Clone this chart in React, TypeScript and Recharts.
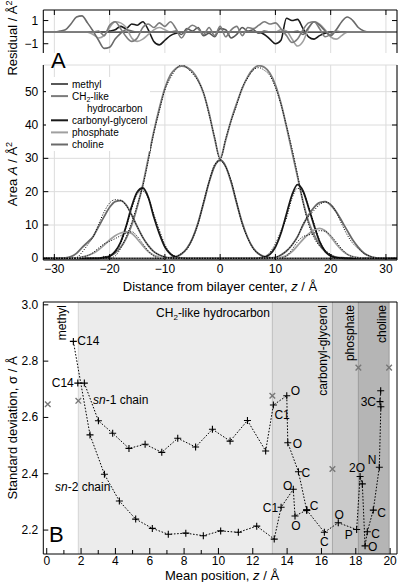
import React from "react";
import { CartesianGrid, Line, LineChart, ReferenceArea, ReferenceLine, XAxis, YAxis } from "recharts";

const FONT = "'Liberation Sans', Arial, Helvetica, sans-serif";
const MINUS = "\u2212";

// ---- panel A / residual: distance from bilayer centre (Å) ----
const zValues = [
  -32, -31, -30, -29, -28, -27, -26, -25, -24, -23,
  -22, -21, -20, -19, -18, -17, -16, -15, -14, -13,
  -12, -11, -10, -9, -8, -7, -6, -5, -4, -3,
  -2, -1, 0, 1, 2, 3, 4, 5, 6, 7,
  8, 9, 10, 11, 12, 13, 14, 15, 16, 17,
  18, 19, 20, 21, 22, 23, 24, 25, 26, 27,
  28, 29, 30, 31, 32,
];

const methylArea = [
  0, 0, 0, 0, 0, 0, 0, 0, 0, 0,
  0, 0, 0, 0, 0, 0, 0, 0, 0, 0,
  0, 0, 0, 0.2, 0.5, 1.3, 3.0, 6.0, 10.6, 16.6,
  22.9, 27.7, 29.5, 27.6, 22.8, 16.5, 10.6, 6.1, 3.0, 1.3,
  0.5, 0.2, 0, 0, 0, 0, 0, 0, 0, 0,
  0, 0, 0, 0, 0, 0, 0, 0, 0, 0,
  0, 0, 0, 0, 0,
];
const ch2Area = [
  0, 0, 0, 0, 0, 0, 0, 0, 0, 0.05,
  0.1, 0.3, 0.7, 1.6, 3.3, 6, 10, 15.5, 22, 30,
  38, 45, 51, 55, 57, 57.7, 57.3, 56, 53.5, 49.5,
  43.5, 36, 30, 35.5, 41.5, 46.5, 51, 54.5, 56.8, 57.8,
  57.3, 55.5, 52, 46.5, 39.5, 32, 24.5, 17, 11, 7,
  4, 2, 1, 0.4, 0.2, 0.05, 0, 0, 0, 0,
  0, 0, 0, 0, 0,
];
const carbonylArea = [
  0, 0, 0, 0, 0, 0, 0, 0, 0, 0,
  0, 0.2, 0.65, 2.1, 4.9, 9.7, 15.6, 19.9, 21.1, 18.3,
  12.4, 7.4, 3.4, 1.3, 0.4, 0.1, 0, 0, 0, 0,
  0, 0, 0, 0, 0, 0, 0, 0, 0, 0.08,
  0.35, 1.2, 3.4, 7.5, 13.3, 19, 22.1, 20.2, 15.2, 9.8,
  5.0, 2.1, 0.7, 0.2, 0.05, 0, 0, 0, 0, 0,
  0, 0, 0, 0, 0,
];
const phosphateArea = [
  0, 0, 0, 0, 0, 0, 0.1, 0.4, 0.8, 1.5,
  2.6, 4, 5.5, 6.8, 7.6, 7.9, 7.5, 5.8, 3.8, 2,
  0.9, 0.3, 0.1, 0, 0, 0, 0, 0, 0, 0,
  0, 0, 0, 0, 0, 0, 0, 0, 0, 0,
  0, 0, 0, 0.3, 0.8, 2, 3.8, 5.7, 7.3, 8.5,
  9, 8.3, 6.5, 4.3, 2.5, 1.2, 0.5, 0.2, 0, 0,
  0, 0, 0, 0, 0,
];
const cholineArea = [
  0, 0, 0, 0, 0.1, 0.5, 1.5, 3.2, 4.8, 6.5,
  9.5, 12.5, 15.3, 17, 17.3, 16, 13, 9.5, 6.3, 3.8,
  2, 1, 0.4, 0.1, 0, 0, 0, 0, 0, 0,
  0, 0, 0, 0, 0, 0, 0, 0, 0, 0,
  0, 0.1, 0.3, 1, 2.2, 4, 6.5, 10, 13, 15.3,
  16.7, 17, 16, 14, 11.2, 8.3, 5.5, 3.3, 1.6, 0.7,
  0.2, 0, 0, 0, 0,
];

// residual = simulation - fit
const methylRes = [
  0, 0, 0, 0, 0, 0, 0, 0, 0, 0,
  0, 0, 0, 0, 0, 0, 0, 0, 0, 0,
  0, 0, 0, 0, 0.1, -0.2, 0.3, 0.1, 0.4, -0.3,
  -0.1, -0.4, 0.3, 0.2, -0.5, -0.2, 0.4, 0.1, 0.2, -0.1,
  0.1, 0, 0, 0, 0, 0, 0, 0, 0, 0,
  0, 0, 0, 0, 0, 0, 0, 0, 0, 0,
  0, 0, 0, 0, 0,
];
const ch2Res = [
  0, 0, 0, 0, 0, 0, 0, 0, 0, 0,
  0.1, -0.3, 0.6, 0.9, 0.3, -0.4, -0.8, -0.5, 0.4, 0.7,
  0.4, 0.8, 0.5, 0.9, 0.3, -0.5, 0.2, 0.6, 0.3, -0.2,
  0.4, -0.3, 0.5, -0.4, 0.2, 0.5, -0.3, 0.4, 0.3, 0.6,
  0.9, 0.7, 0.8, 0.3, -0.3, -0.9, -0.6, 0.2, 0.8, 0.9,
  0.3, -0.4, -0.2, 0.1, 0, 0, 0, 0, 0, 0,
  0, 0, 0, 0, 0,
];
const carbonylRes = [
  0, 0, 0, 0, 0, 0, 0, 0, 0, 0,
  0, 0, 0.1, 0.2, 0.5, 0.3, 0.7, 0.6, 0.9, 0.2,
  -0.8, -1.1, -0.7, -0.3, -0.1, 0, 0, 0, 0, 0,
  0, 0, 0, 0, 0, 0, 0, 0, 0, 0,
  -0.2, -0.6, -1.0, -0.7, 1.2, 1.0, 1.1, 0.3, -0.4, -0.6,
  -0.3, -0.1, 0, 0, 0, 0, 0, 0, 0, 0,
  0, 0, 0, 0, 0,
];
const phosphateRes = [
  0, 0, 0, 0, 0, 0, 0, 0, 0, -0.2,
  -0.5, -0.3, 0.4, 0.9, 0.8, 0.4, -0.5, -0.8, -0.6, -0.2,
  0.2, 0.4, 0.2, 0, 0, 0, 0, 0, 0, 0,
  0, 0, 0, 0, 0, 0, 0, 0, 0, 0,
  0, 0, 0, 0.2, 0.1, -0.6, -1.2, -0.8, 0.3, 0.9,
  0.7, 0.2, -0.4, -0.6, -0.3, 0, 0, 0, 0, 0,
  0, 0, 0, 0, 0,
];
const cholineRes = [
  0, 0, 0, 0.1, 0.2, 0.7, 1.3, 1.4, 0.8, 0.1,
  -0.7, -1.4, -1.3, -0.6, -0.1, 0.2, 0.1, 0, 0, 0,
  0, 0, 0, 0, 0, 0, 0, 0, 0, 0,
  0, 0, 0, 0, 0, 0, 0, 0, 0, 0,
  0, 0, 0, 0, 0, 0, 0.1, -0.2, 0.4, 0.9,
  0.6, 0.1, -0.3, 0.2, 0.9, 1.3, 1.0, 0.4, 0.1, 0,
  0, 0, 0, 0, 0,
];

const groups = ["methyl", "ch2", "carbonyl", "phosphate", "choline"];
const groupNames = ["methyl", "CH2-like hydrocarbon", "carbonyl-glycerol", "phosphate", "choline"];
const areaSets = [methylArea, ch2Area, carbonylArea, phosphateArea, cholineArea];
const resSets = [methylRes, ch2Res, carbonylRes, phosphateRes, cholineRes];
const colors = ["#585858", "#7c7c7c", "#1a1a1a", "#a0a0a0", "#6a6a6a"];
const resOrder = [2, 0, 3, 4, 1];

const zTicks = [-30, -20, -10, 0, 10, 20, 30];
const areaTicks = [0, 10, 20, 30, 40, 50];
const resTicks = [-1, 0, 1];

// ---- panel B: mean position (Å) and standard deviation (Å) of each atom ----
const sn1Points = [
  [1.81, 2.722], [2.19, 2.722], [3.01, 2.588], [3.84, 2.544], [4.79, 2.49], [5.73, 2.505],
  [6.7, 2.476], [7.63, 2.526], [8.67, 2.495], [9.65, 2.558], [10.68, 2.516], [11.69, 2.589],
  [12.75, 2.481], [13.2, 2.644], [13.98, 2.677], [14.04, 2.51], [14.66, 2.407], [15.14, 2.271],
];
const sn1Labels = ["C14", "", "", "", "", "", "", "", "", "", "", "", "", "C1", "O", "O", "C", "C"];

const sn2Points = [
  [1.55, 2.87], [2.52, 2.538], [3.36, 2.398], [4.23, 2.303], [5.18, 2.239], [6.15, 2.206],
  [7.08, 2.185], [8.1, 2.189], [9.12, 2.18], [10.13, 2.197], [11.16, 2.192], [12.23, 2.214],
  [13.25, 2.168], [13.65, 2.281], [14.36, 2.345], [14.46, 2.25], [15.14, 2.271],
];
const sn2Labels = ["C14", "", "", "", "", "", "", "", "", "", "", "", "", "C1", "O", "O", ""];

const headPoints = [
  [15.14, 2.271], [16.17, 2.192], [16.98, 2.226], [18.05, 2.202], [18.25, 2.39], [18.38, 2.364],
  [18.54, 2.144], [18.67, 2.194], [19.02, 2.271], [19.37, 2.423], [19.46, 2.638], [19.41, 2.656],
  [19.45, 2.695],
];
const headLabels = ["", "C", "O", "P", "2O", "", "O", "C", "C", "N", "", "3C", ""];

const groupPoints = [[0.06, 2.647], [1.84, 2.659], [13.14, 2.677], [16.64, 2.417], [18.15, 2.777], [19.94, 2.777]];

const posTicks = [0, 1, 2, 3, 4, 5, 6, 7, 8, 9, 10, 11, 12, 13, 14, 15, 16, 17, 18, 19, 20];
const sigmaTicks = [2.2, 2.4, 2.6, 2.8, 3.0];

// label placement [dx, dy, anchor] per point
const sn1Place: Record<number, [number, number, string]> = {
  0: [-4, 4, "end"], 13: [1, 14, "start"], 14: [4, -1, "start"], 15: [5, 5, "start"], 16: [3, 5, "start"], 17: [3, 0, "start"],
};
const sn2Place: Record<number, [number, number, string]> = {
  0: [4, 4, "start"], 13: [-3, 5, "end"], 14: [-1, 1, "end"], 15: [1, 14, "middle"],
};
const headPlace: Record<number, [number, number, string]> = {
  1: [0, 14, "middle"], 2: [1, -4, "middle"], 3: [-4, 9, "end"], 4: [5, -5, "end"], 6: [3, 5, "start"],
  7: [4, 6, "start"], 8: [4, 7, "start"], 9: [-3, -3, "end"], 11: [-4, 4, "end"],
};

const rowsA = zValues.map((z, i) => {
  const row: Record<string, number> = { z };
  groups.forEach((g, k) => {
    row[g] = areaSets[k][i];
    row[g + "Fit"] = Math.max(0, areaSets[k][i] - resSets[k][i]);
    row[g + "Res"] = resSets[k][i];
  });
  return row;
});

const toRows = (pts: number[][]) => pts.map(([x, s]) => ({ x, s }));

const fmtInt = (v: number) => (v < 0 ? MINUS + Math.abs(v) : String(v));

const tickLeft = (fmt?: (v: number) => string, len = 5) => (p: any) => (
  <g>
    <line x1={p.x} x2={p.x + len} y1={p.y} y2={p.y} stroke="#000" />
    {fmt ? (
      <text x={p.x - 5} y={p.y + 4} textAnchor="end" fontSize={12} fontFamily={FONT} fill="#000">
        {fmt(p.payload.value)}
      </text>
    ) : null}
  </g>
);
const tickRight = (len = 5) => (p: any) => (
  <line x1={p.x - len} x2={p.x} y1={p.y} y2={p.y} stroke="#000" />
);
const tickTop = (len = 5) => (p: any) => (
  <line x1={p.x} x2={p.x} y1={p.y} y2={p.y + len} stroke="#000" />
);
const tickBottom = (fmt: (v: number) => string, every = 1, gap = 13) => (p: any) => {
  const v = p.payload.value;
  const major = Math.round(v) % every === 0;
  return (
    <g>
      <line x1={p.x} x2={p.x} y1={p.y} y2={p.y - (major ? 6 : 4)} stroke="#000" />
      {major ? (
        <text x={p.x} y={p.y + gap} textAnchor="middle" fontSize={12} fontFamily={FONT} fill="#000">
          {fmt(v)}
        </text>
      ) : null}
    </g>
  );
};

const plusDot = (labels: string[], place: Record<number, [number, number, string]>) => (p: any) => {
  const { cx, cy, index } = p;
  if (cx == null || cy == null) return <g key={`e${index}`} />;
  const lab = labels[index];
  const pl = place[index] || [4, 4, "start"];
  return (
    <g key={`d${index}`}>
      <path d={`M${cx - 3.5},${cy}H${cx + 3.5}M${cx},${cy - 3.5}V${cy + 3.5}`} stroke="#000" strokeWidth={1.1} />
      {lab ? (
        <text x={cx + pl[0]} y={cy + pl[1]} textAnchor={pl[2] as any} fontSize={12} fontFamily={FONT} fill="#000">
          {lab}
        </text>
      ) : null}
    </g>
  );
};

const crossDot = (p: any) => {
  const { cx, cy, index } = p;
  if (cx == null || cy == null) return <g key={`e${index}`} />;
  return (
    <path
      key={`x${index}`}
      d={`M${cx - 2.8},${cy - 2.8}L${cx + 2.8},${cy + 2.8}M${cx - 2.8},${cy + 2.8}L${cx + 2.8},${cy - 2.8}`}
      stroke="#777"
      strokeWidth={1.4}
    />
  );
};

function ResidualPanel() {
  return (
    <LineChart width={400} height={60} data={rowsA} margin={{ top: 0, right: 0, bottom: 7, left: 0 }}>
      <CartesianGrid xAxisId="t" yAxisId="l" horizontal={false} stroke="#dcdcdc" />
      <XAxis xAxisId="t" orientation="top" dataKey="z" type="number" domain={[-32, 32]} ticks={zTicks} height={10}
        allowDataOverflow tickSize={0} tickMargin={0} axisLine={{ stroke: "#000" }} tick={tickTop()} />
      <YAxis yAxisId="l" type="number" domain={[-1.8, 1.91]} ticks={resTicks} width={43.3} allowDataOverflow
        tickSize={0} tickMargin={0} axisLine={{ stroke: "#000" }} tick={tickLeft(fmtInt)} />
      <YAxis yAxisId="r" orientation="right" type="number" domain={[-1.8, 1.91]} ticks={resTicks} width={3}
        allowDataOverflow tickSize={0} tickMargin={0} axisLine={{ stroke: "#000" }} tick={tickRight()} />
      {resOrder.map((k) => (
        <Line key={groups[k]} xAxisId="t" yAxisId="l" dataKey={groups[k] + "Res"} type="monotone" stroke={colors[k]}
          strokeWidth={1.6} dot={false} isAnimationActive={false} />
      ))}
    </LineChart>
  );
}

function AreaPanel() {
  return (
    <LineChart width={400} height={230} data={rowsA} margin={{ top: 5, right: 0, bottom: 0, left: 0 }}>
      <CartesianGrid xAxisId="b" yAxisId="l" stroke="#dcdcdc" />
      <XAxis xAxisId="b" dataKey="z" type="number" domain={[-32, 32]} ticks={zTicks} height={30}
        allowDataOverflow tickSize={0} tickMargin={0} axisLine={{ stroke: "#000" }} tick={tickBottom(fmtInt, 1, 13)} />
      <YAxis yAxisId="l" type="number" domain={[-0.5, 58]} ticks={areaTicks} width={43.3} allowDataOverflow
        tickSize={0} tickMargin={0} axisLine={{ stroke: "#000" }} tick={tickLeft(fmtInt)} />
      <YAxis yAxisId="r" orientation="right" type="number" domain={[-0.5, 58]} ticks={areaTicks} width={3}
        allowDataOverflow tickSize={0} tickMargin={0} axisLine={{ stroke: "#000" }} tick={tickRight()} />
      {groups.map((g, k) => (
        <Line key={g} xAxisId="b" yAxisId="l" dataKey={g} type="monotone" stroke={colors[k]}
          strokeWidth={1.8} dot={false} isAnimationActive={false} />
      ))}
      {groups.map((g) => (
        <Line key={g + "Fit"} xAxisId="b" yAxisId="l" dataKey={g + "Fit"} type="monotone" stroke="#000"
          strokeWidth={1} strokeDasharray="1 1.6" dot={false} isAnimationActive={false} />
      ))}
    </LineChart>
  );
}

function SigmaPanel() {
  const bands: [number, number, string][] = [
    [groupPoints[1][0], groupPoints[2][0], "#ececec"],
    [groupPoints[2][0], groupPoints[3][0], "#dddddd"],
    [groupPoints[3][0], groupPoints[4][0], "#cacaca"],
    [groupPoints[4][0], groupPoints[5][0], "#b5b5b5"],
  ];
  const edges: [number, string][] = [
    [groupPoints[1][0], "#d4d4d4"],
    [groupPoints[2][0], "#bdbdbd"],
    [groupPoints[3][0], "#a8a8a8"],
    [groupPoints[4][0], "#9a9a9a"],
    [groupPoints[5][0], "#9a9a9a"],
  ];
  return (
    <LineChart width={400} height={292} margin={{ top: 11, right: 0, bottom: 0, left: 0 }}>
      <XAxis xAxisId="b" dataKey="x" type="number" domain={[-0.2, 20.4]} ticks={posTicks} height={28}
        allowDataOverflow tickSize={0} tickMargin={0} axisLine={{ stroke: "#000" }} tick={tickBottom(String, 2, 11)} />
      <XAxis xAxisId="t" orientation="top" dataKey="x" type="number" domain={[-0.2, 20.4]} ticks={[]} height={1}
        allowDataOverflow tickSize={0} tickMargin={0} axisLine={{ stroke: "#000" }} tick={false} />
      <YAxis yAxisId="l" type="number" domain={[2.115, 3.01]} ticks={sigmaTicks} width={43.3} allowDataOverflow
        tickSize={0} tickMargin={0} axisLine={{ stroke: "#000" }} tick={tickLeft((v) => v.toFixed(1))} />
      <YAxis yAxisId="r" orientation="right" type="number" domain={[2.115, 3.01]} ticks={[]} width={3}
        allowDataOverflow tickSize={0} tickMargin={0} axisLine={{ stroke: "#000" }} tick={false} />
      {bands.map(([a, b, c]) => (
        <ReferenceArea key={a} xAxisId="b" yAxisId="l" x1={a} x2={b} fill={c} fillOpacity={1} stroke="none" />
      ))}
      {edges.map(([a, c]) => (
        <ReferenceLine key={a} xAxisId="b" yAxisId="l" x={a} stroke={c} strokeWidth={1} />
      ))}
      <Line xAxisId="b" yAxisId="l" data={toRows(groupPoints)} dataKey="s" stroke="none" dot={crossDot}
        isAnimationActive={false} />
      <Line xAxisId="b" yAxisId="l" data={toRows(sn1Points)} dataKey="s" type="linear" stroke="#000"
        strokeWidth={1} strokeDasharray="1.6 1.6" dot={plusDot(sn1Labels, sn1Place)} isAnimationActive={false} />
      <Line xAxisId="b" yAxisId="l" data={toRows(sn2Points)} dataKey="s" type="linear" stroke="#000"
        strokeWidth={1} strokeDasharray="1.6 1.6" dot={plusDot(sn2Labels, sn2Place)} isAnimationActive={false} />
      <Line xAxisId="b" yAxisId="l" data={toRows(headPoints)} dataKey="s" type="linear" stroke="#000"
        strokeWidth={1} strokeDasharray="1.6 1.6" dot={plusDot(headLabels, headPlace)} isAnimationActive={false} />
    </LineChart>
  );
}

function Overlay() {
  const t = { fontFamily: FONT, fill: "#000" } as const;
  // legend baselines: methyl, CH2-like, (hydrocarbon), carbonyl-glycerol, phosphate, choline
  const legendBase = [87.5, 99.6, 123.8, 135.9, 148];
  const lf = 10;
  return (
    <svg width={400} height={582} style={{ position: "absolute", left: 0, top: 0, pointerEvents: "none" }}>
      {/* axis titles */}
      <text transform="translate(17,38) rotate(-90)" textAnchor="middle" fontSize={13} {...t}>
        Residual / Å<tspan dy={-5} fontSize={9}>2</tspan>
      </text>
      <text transform="translate(17,174) rotate(-90)" textAnchor="middle" fontSize={13} {...t}>
        Area <tspan fontStyle="italic">A</tspan> / Å<tspan dy={-5} fontSize={9}>2</tspan>
      </text>
      <text x={220} y={291} textAnchor="middle" fontSize={13} {...t}>
        Distance from bilayer center, <tspan fontStyle="italic">z</tspan> / Å
      </text>
      <text transform="translate(17,428) rotate(-90)" textAnchor="middle" fontSize={13} {...t}>
        Standard deviation, σ / Å
      </text>
      <text x={222} y={580} textAnchor="middle" fontSize={13} {...t}>
        Mean position, <tspan fontStyle="italic">z</tspan> / Å
      </text>

      {/* panel letters */}
      <text x={51} y={68} fontSize={22} {...t}>A</text>
      <text x={49} y={542} fontSize={22} {...t}>B</text>

      {/* legend */}
      <rect x={46} y={77} width={104} height={74} fill="#fff" />
      {groups.map((g, k) => (
        <line key={g} x1={51} x2={68} y1={legendBase[k] - 3.5} y2={legendBase[k] - 3.5} stroke={colors[k]} strokeWidth={2} />
      ))}
      <text x={72} y={legendBase[0]} fontSize={lf} {...t}>{groupNames[0]}</text>
      <text x={72} y={legendBase[1]} fontSize={lf} {...t}>
        CH<tspan dy={2} fontSize={7}>2</tspan><tspan dy={-2}>-like</tspan>
      </text>
      <text x={87} y={111.7} fontSize={lf} {...t}>hydrocarbon</text>
      <text x={72} y={legendBase[2]} fontSize={lf} {...t}>{groupNames[2]}</text>
      <text x={72} y={legendBase[3]} fontSize={lf} {...t}>{groupNames[3]}</text>
      <text x={72} y={legendBase[4]} fontSize={lf} {...t}>{groupNames[4]}</text>

      {/* panel B region names */}
      <text transform="translate(66,305) rotate(-90)" textAnchor="end" fontSize={12} {...t}>methyl</text>
      <text x={213} y={317} textAnchor="middle" fontSize={12} {...t}>
        CH<tspan dy={3} fontSize={8}>2</tspan><tspan dy={-3}>-like hydrocarbon</tspan>
      </text>
      <text transform="translate(327,305) rotate(-90)" textAnchor="end" fontSize={12} {...t}>carbonyl-glycerol</text>
      <text transform="translate(354,305) rotate(-90)" textAnchor="end" fontSize={12} {...t}>phosphate</text>
      <text transform="translate(386,305) rotate(-90)" textAnchor="end" fontSize={12} {...t}>choline</text>
      <text x={93} y={404} fontSize={12} {...t}>
        <tspan fontStyle="italic">sn</tspan>-1 chain
      </text>
      <text x={55} y={491} fontSize={12} {...t}>
        <tspan fontStyle="italic">sn</tspan>-2 chain
      </text>
    </svg>
  );
}

export default function App() {
  return (
    <div style={{ position: "absolute", left: 0, top: 0, width: 400, height: 582, background: "#fff", fontFamily: FONT }}>
      <div style={{ position: "absolute", left: 0, top: 290 }}>
        <SigmaPanel />
      </div>
      <div style={{ position: "absolute", left: 0, top: 60 }}>
        <AreaPanel />
      </div>
      <div style={{ position: "absolute", left: 0, top: 0 }}>
        <ResidualPanel />
      </div>
      <Overlay />
    </div>
  );
}
